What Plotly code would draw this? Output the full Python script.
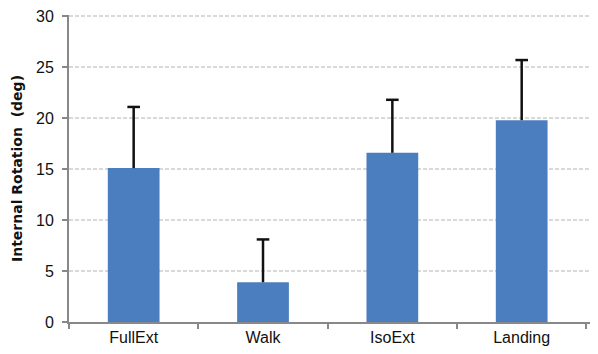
import plotly.graph_objects as go

categories = ["FullExt", "Walk", "IsoExt", "Landing"]
means = [15.1, 3.9, 16.6, 19.8]
sd_plus = [6.0, 4.2, 5.2, 5.9]
y_ticks = [0, 5, 10, 15, 20, 25, 30]

err_top = [m + s for m, s in zip(means, sd_plus)]

fig = go.Figure()
fig.add_trace(go.Bar(
    x=categories, y=means,
    marker=dict(color="#4a7ebf", line=dict(width=0)),
    width=0.4,
))
# vertical whisker (plus direction only, no caps)
fig.add_trace(go.Scatter(
    x=categories, y=means, mode="markers",
    marker=dict(size=1, color="rgba(0,0,0,0)"),
    error_y=dict(type="data", array=sd_plus, symmetric=False,
                 arrayminus=[0] * len(sd_plus),
                 color="#111111", thickness=2.5, width=0),
    hoverinfo="skip",
))
# top caps
fig.add_trace(go.Scatter(
    x=categories, y=err_top, mode="markers",
    marker=dict(symbol="line-ew-open", size=9, color="#111111",
                line=dict(color="#111111", width=2.5)),
    hoverinfo="skip",
))

fig.update_layout(
    width=590, height=346,
    margin=dict(l=61, r=0, t=7, b=32),
    plot_bgcolor="white", paper_bgcolor="white",
    showlegend=False,
    font=dict(family="Liberation Sans, Arial, sans-serif", color="#111111"),
    xaxis=dict(
        range=[-0.5, 3.59], automargin=False,
        showline=True, linecolor="#888888", linewidth=2,
        ticks="outside", tickson="boundaries", ticklen=5, tickwidth=2,
        tickcolor="#888888", showgrid=False,
        tickfont=dict(size=16, color="#111111"),
        fixedrange=True,
    ),
    yaxis=dict(
        range=[0, 30.12], tickvals=y_ticks, automargin=False,
        showline=True, linecolor="#888888", linewidth=2,
        ticks="outside", ticklen=5, tickwidth=2, tickcolor="#888888",
        ticklabelstandoff=5, ticklabeloverflow="allow",
        showgrid=True, gridcolor="#d9d9d9", gridwidth=2, griddash="4px,2px",
        zeroline=False,
        tickfont=dict(size=16, color="#111111"),
        title=dict(text="<b>Internal Rotation  (deg)</b>",
                   font=dict(family="DejaVu Sans, sans-serif", size=14,
                             color="#111111"), standoff=10),
        fixedrange=True,
    ),
)

fig.write_html("out.html")
